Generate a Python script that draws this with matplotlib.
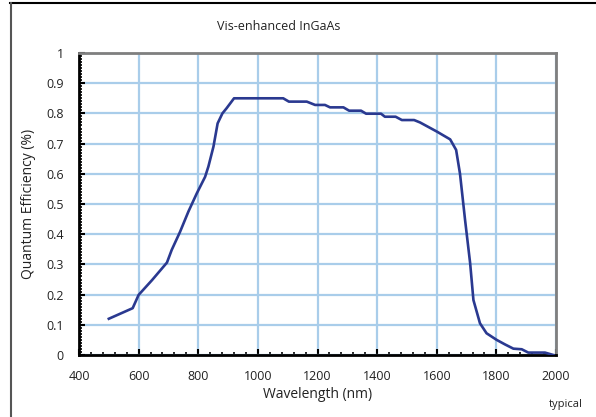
import matplotlib
matplotlib.use("Agg")
import matplotlib.pyplot as plt
from matplotlib.lines import Line2D
from matplotlib.ticker import MultipleLocator, FixedLocator

plt.rcParams['font.family'] = ['Open Sans', 'DejaVu Sans']

title = "Vis-enhanced InGaAs"
xlabel = "Wavelength (nm)"
ylabel = "Quantum Efficiency (%)"
note = "typical"

wavelength = [500, 580, 600, 645, 695, 711, 739, 767, 795, 823, 834, 851, 865, 881, 895, 920,
              1085, 1104, 1164, 1192, 1225, 1242, 1287, 1306, 1346, 1363, 1413, 1426, 1462,
              1483, 1524, 1544, 1600, 1645, 1665, 1678, 1695, 1712, 1723, 1745, 1767, 1801,
              1829, 1857, 1885, 1907, 1963, 1991]
qe = [0.120, 0.155, 0.199, 0.248, 0.306, 0.348, 0.408, 0.475, 0.535, 0.590, 0.624, 0.690,
      0.767, 0.800, 0.817, 0.850,
      0.850, 0.839, 0.839, 0.828, 0.828, 0.820, 0.820, 0.809, 0.809, 0.799, 0.799, 0.789, 0.789,
      0.778, 0.778, 0.770, 0.740, 0.714, 0.679, 0.600, 0.447, 0.304, 0.182, 0.105, 0.072, 0.050,
      0.035, 0.021, 0.019, 0.008, 0.008, 0.000]

xticks = [400, 600, 800, 1000, 1200, 1400, 1600, 1800, 2000]
yticks = [0, 0.1, 0.2, 0.3, 0.4, 0.5, 0.6, 0.7, 0.8, 0.9, 1]
ytick_labels = ["0", "0.1", "0.2", "0.3", "0.4", "0.5", "0.6", "0.7", "0.8", "0.9", "1"]

fig = plt.figure(figsize=(5.96, 4.17), dpi=100)
ax = fig.add_axes([79/596, 62/417, 477/596, 302/417])

grid_c = "#a9cdea"
ax.set_xlim(400, 2000)
ax.set_ylim(0, 1)
ax.xaxis.set_major_locator(FixedLocator(xticks))
ax.yaxis.set_major_locator(FixedLocator(yticks))
ax.set_yticklabels(ytick_labels)
ax.xaxis.set_minor_locator(MultipleLocator(40))
ax.yaxis.set_minor_locator(MultipleLocator(0.01))
ax.grid(True, which='major', color=grid_c, lw=1.6)
ax.set_axisbelow(True)

ax.plot(wavelength, qe, color="#2a3990", lw=1.9, zorder=3)

for s in ['left', 'bottom']:
    ax.spines[s].set_color('black')
    ax.spines[s].set_linewidth(2)
for s in ['top', 'right']:
    ax.spines[s].set_color('#7f7f7f')
    ax.spines[s].set_linewidth(2)

ax.tick_params(axis='both', which='major', direction='in', length=4, width=1.5,
               labelsize=9, colors='black', top=False, right=False)
ax.tick_params(axis='both', which='minor', direction='in', length=2.5, width=1.2,
               top=False, right=False)
ax.tick_params(axis='x', pad=11)
ax.tick_params(axis='y', pad=11)
for lbl in ax.get_xticklabels() + ax.get_yticklabels():
    lbl.set_color('#222222')

ax.set_xlabel(xlabel, fontsize=10, labelpad=3, color='#222222')
ax.set_ylabel(ylabel, fontsize=10, labelpad=7, color='#222222')

fig.text(279/596, 1 - 26/417, title, ha='center', va='center', fontsize=9, color='#222222')
fig.text(566/596, 1 - 404/417, note, ha='center', va='center', fontsize=8, color='#222222')

# outer frame (top and left edges visible)
fig.add_artist(Line2D([10/596, 1], [1 - 3/417, 1 - 3/417], color='black', lw=1.5,
                      transform=fig.transFigure))
fig.add_artist(Line2D([11/596, 11/596], [0, 1 - 3/417], color='#555555', lw=1.5,
                      transform=fig.transFigure))

fig.savefig("out.png", dpi=100)
